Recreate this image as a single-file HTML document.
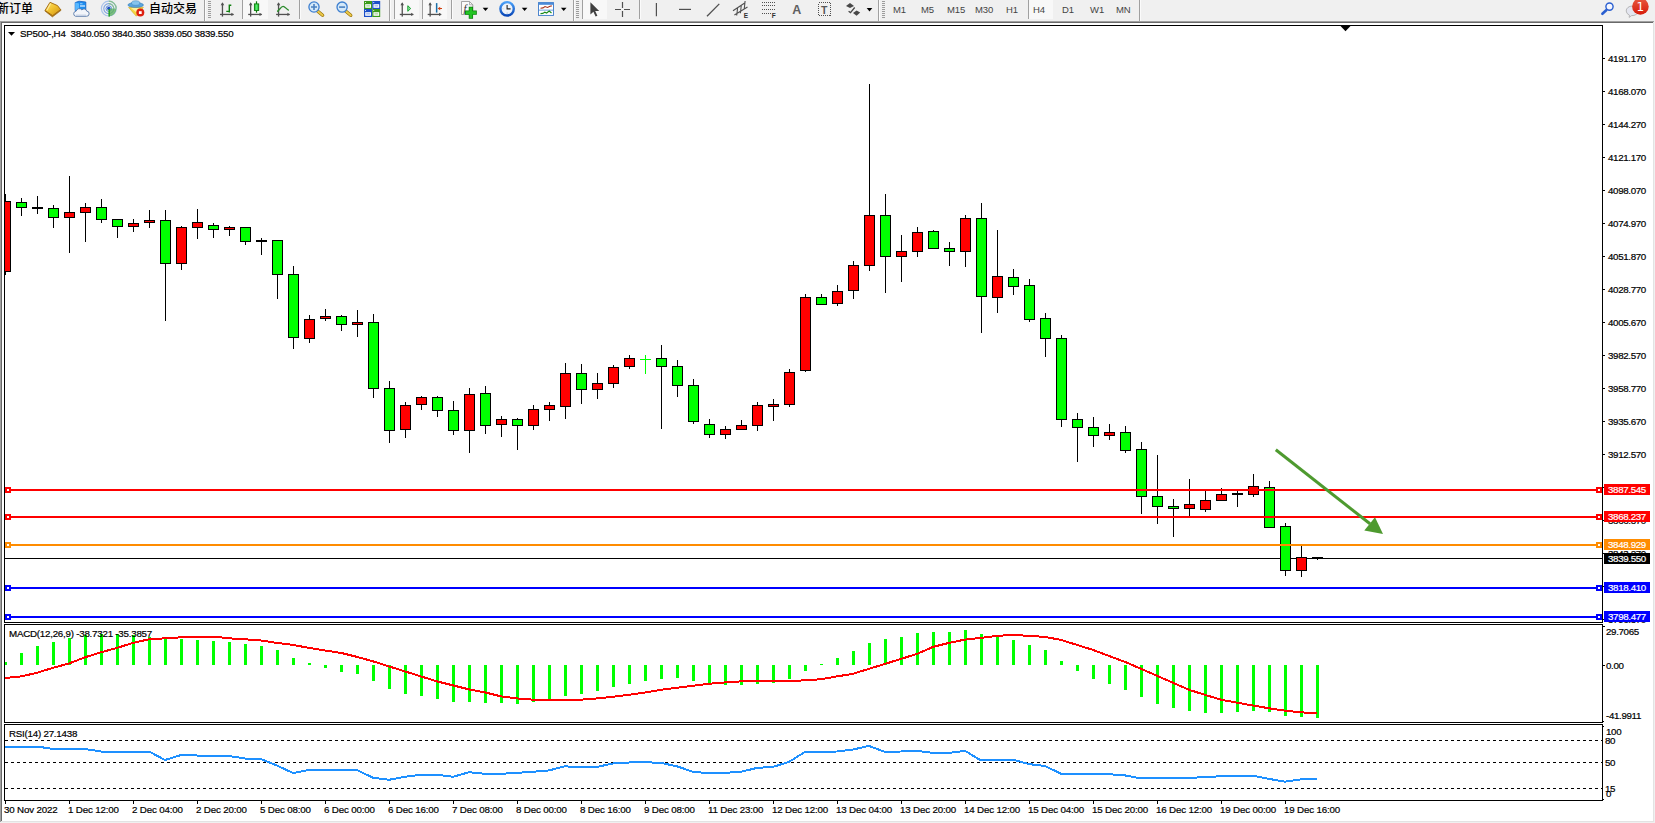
<!DOCTYPE html>
<html lang="zh-CN">
<head>
<meta charset="utf-8">
<title>SP500-,H4</title>
<style>
html,body{margin:0;padding:0;background:#fff;}
body{width:1655px;height:823px;position:relative;overflow:hidden;font-family:"Liberation Sans","Noto Sans CJK SC",sans-serif;}
#toolbar{position:absolute;left:0;top:0;width:1655px;height:21px;background:#f0f0f0;overflow:hidden;}
#tbicons{position:absolute;left:0;top:0;display:block;}
#tbicons text{font-family:"Liberation Sans",sans-serif;}
#toolbar .sep{position:absolute;top:0;width:1px;height:19px;background:#a0a0a0;box-shadow:1px 0 0 #fbfbfb;}
#toolbar .sep.full{height:21px;}
#toolbar .grip{position:absolute;top:1px;width:3px;height:17px;background:repeating-linear-gradient(to bottom,#9c9c9c 0,#9c9c9c 1px,#f0f0f0 1px,#f0f0f0 2px);}
#toolbar .chk{position:absolute;top:0;height:19px;background:#f8f8f8;border-left:1px solid #a0a0a0;box-sizing:border-box;}
#toolbar .chk.nb{border-left:0;}
#toolbar .cjk{position:absolute;top:0;font-size:12px;line-height:18px;color:#000;white-space:nowrap;font-weight:500;font-family:"Liberation Sans","Noto Sans CJK SC",sans-serif;}
#toolbar .tf{position:absolute;top:4px;font-size:9.5px;line-height:12px;color:#444;white-space:nowrap;letter-spacing:-0.05px;}
#edge-top1{position:absolute;left:0;top:21px;width:1655px;height:1px;background:#a0a0a0;}
#edge-top2{position:absolute;left:0;top:22px;width:1653px;height:1px;background:#696969;}
#edge-l1{position:absolute;left:0;top:22px;width:1px;height:800px;background:#a0a0a0;}
#edge-l2{position:absolute;left:1px;top:22px;width:1px;height:799px;background:#696969;}
#edge-r{position:absolute;left:1653px;top:22px;width:1px;height:800px;background:#e3e3e3;}
#edge-r2{position:absolute;left:1654px;top:21px;width:1px;height:802px;background:#f0f0f0;}
#edge-b{position:absolute;left:1px;top:821px;width:1653px;height:1px;background:#e3e3e3;}
#edge-b2{position:absolute;left:0;top:822px;width:1655px;height:1px;background:#f0f0f0;}
#chart{position:absolute;left:0;top:0;width:1655px;height:823px;display:block;}
#chart text{font-family:"Liberation Sans",sans-serif;font-size:9.75px;fill:#000;stroke:#000;stroke-width:.2px;letter-spacing:-0.34px;}
#chart text.w{fill:#fff;stroke:#fff;}
#chart text.tm{letter-spacing:-0.17px;}
#chart text.info{letter-spacing:-0.23px;white-space:pre;}
</style>
</head>
<body>
<div id="edge-top1"></div><div id="edge-top2"></div><div id="edge-l1"></div><div id="edge-l2"></div><div id="edge-r"></div><div id="edge-r2"></div><div id="edge-b"></div><div id="edge-b2"></div>
<svg id="chart" width="1655" height="823" viewBox="0 0 1655 823">
<rect x="5" y="558" width="1597" height="1" fill="#000"/>
<defs><clipPath id="mainclip"><rect x="5" y="26" width="1597" height="596"/></clipPath><clipPath id="macdclip"><rect x="5" y="625" width="1597" height="97"/></clipPath></defs>
<g shape-rendering="crispEdges" clip-path="url(#mainclip)">
<rect x="5" y="194" width="1" height="81" fill="#000"/>
<rect x="0" y="201" width="11" height="71" fill="#000"/>
<rect x="1" y="202" width="9" height="69" fill="#ff0000"/>
<rect x="21" y="198" width="1" height="18" fill="#000"/>
<rect x="16" y="202" width="11" height="6" fill="#000"/>
<rect x="17" y="203" width="9" height="4" fill="#00ff00"/>
<rect x="37" y="196" width="1" height="18" fill="#000"/>
<rect x="32" y="207" width="11" height="2" fill="#000"/>
<rect x="53" y="205" width="1" height="23" fill="#000"/>
<rect x="48" y="208" width="11" height="10" fill="#000"/>
<rect x="49" y="209" width="9" height="8" fill="#00ff00"/>
<rect x="69" y="176" width="1" height="77" fill="#000"/>
<rect x="64" y="212" width="11" height="6" fill="#000"/>
<rect x="65" y="213" width="9" height="4" fill="#ff0000"/>
<rect x="85" y="203" width="1" height="39" fill="#000"/>
<rect x="80" y="207" width="11" height="6" fill="#000"/>
<rect x="81" y="208" width="9" height="4" fill="#ff0000"/>
<rect x="101" y="199" width="1" height="24" fill="#000"/>
<rect x="96" y="207" width="11" height="13" fill="#000"/>
<rect x="97" y="208" width="9" height="11" fill="#00ff00"/>
<rect x="117" y="219" width="1" height="19" fill="#000"/>
<rect x="112" y="219" width="11" height="8" fill="#000"/>
<rect x="113" y="220" width="9" height="6" fill="#00ff00"/>
<rect x="133" y="219" width="1" height="13" fill="#000"/>
<rect x="128" y="223" width="11" height="4" fill="#000"/>
<rect x="129" y="224" width="9" height="2" fill="#ff0000"/>
<rect x="149" y="210" width="1" height="18" fill="#000"/>
<rect x="144" y="220" width="11" height="3" fill="#000"/>
<rect x="145" y="221" width="9" height="1" fill="#ff0000"/>
<rect x="165" y="210" width="1" height="111" fill="#000"/>
<rect x="160" y="220" width="11" height="44" fill="#000"/>
<rect x="161" y="221" width="9" height="42" fill="#00ff00"/>
<rect x="181" y="226" width="1" height="44" fill="#000"/>
<rect x="176" y="227" width="11" height="37" fill="#000"/>
<rect x="177" y="228" width="9" height="35" fill="#ff0000"/>
<rect x="197" y="209" width="1" height="30" fill="#000"/>
<rect x="192" y="222" width="11" height="6" fill="#000"/>
<rect x="193" y="223" width="9" height="4" fill="#ff0000"/>
<rect x="213" y="223" width="1" height="15" fill="#000"/>
<rect x="208" y="225" width="11" height="5" fill="#000"/>
<rect x="209" y="226" width="9" height="3" fill="#00ff00"/>
<rect x="229" y="226" width="1" height="10" fill="#000"/>
<rect x="224" y="227" width="11" height="3" fill="#000"/>
<rect x="225" y="228" width="9" height="1" fill="#ff0000"/>
<rect x="245" y="227" width="1" height="18" fill="#000"/>
<rect x="240" y="227" width="11" height="15" fill="#000"/>
<rect x="241" y="228" width="9" height="13" fill="#00ff00"/>
<rect x="261" y="238" width="1" height="17" fill="#000"/>
<rect x="256" y="240" width="11" height="2" fill="#000"/>
<rect x="277" y="240" width="1" height="59" fill="#000"/>
<rect x="272" y="240" width="11" height="35" fill="#000"/>
<rect x="273" y="241" width="9" height="33" fill="#00ff00"/>
<rect x="293" y="266" width="1" height="83" fill="#000"/>
<rect x="288" y="274" width="11" height="64" fill="#000"/>
<rect x="289" y="275" width="9" height="62" fill="#00ff00"/>
<rect x="309" y="315" width="1" height="28" fill="#000"/>
<rect x="304" y="319" width="11" height="20" fill="#000"/>
<rect x="305" y="320" width="9" height="18" fill="#ff0000"/>
<rect x="325" y="309" width="1" height="12" fill="#000"/>
<rect x="320" y="316" width="11" height="3" fill="#000"/>
<rect x="321" y="317" width="9" height="1" fill="#ff0000"/>
<rect x="341" y="315" width="1" height="16" fill="#000"/>
<rect x="336" y="316" width="11" height="9" fill="#000"/>
<rect x="337" y="317" width="9" height="7" fill="#00ff00"/>
<rect x="357" y="310" width="1" height="27" fill="#000"/>
<rect x="352" y="322" width="11" height="3" fill="#000"/>
<rect x="353" y="323" width="9" height="1" fill="#ff0000"/>
<rect x="373" y="314" width="1" height="84" fill="#000"/>
<rect x="368" y="322" width="11" height="67" fill="#000"/>
<rect x="369" y="323" width="9" height="65" fill="#00ff00"/>
<rect x="389" y="381" width="1" height="62" fill="#000"/>
<rect x="384" y="388" width="11" height="43" fill="#000"/>
<rect x="385" y="389" width="9" height="41" fill="#00ff00"/>
<rect x="405" y="402" width="1" height="36" fill="#000"/>
<rect x="400" y="405" width="11" height="25" fill="#000"/>
<rect x="401" y="406" width="9" height="23" fill="#ff0000"/>
<rect x="421" y="396" width="1" height="14" fill="#000"/>
<rect x="416" y="397" width="11" height="8" fill="#000"/>
<rect x="417" y="398" width="9" height="6" fill="#ff0000"/>
<rect x="437" y="396" width="1" height="21" fill="#000"/>
<rect x="432" y="397" width="11" height="14" fill="#000"/>
<rect x="433" y="398" width="9" height="12" fill="#00ff00"/>
<rect x="453" y="401" width="1" height="34" fill="#000"/>
<rect x="448" y="410" width="11" height="21" fill="#000"/>
<rect x="449" y="411" width="9" height="19" fill="#00ff00"/>
<rect x="469" y="388" width="1" height="65" fill="#000"/>
<rect x="464" y="394" width="11" height="37" fill="#000"/>
<rect x="465" y="395" width="9" height="35" fill="#ff0000"/>
<rect x="485" y="386" width="1" height="48" fill="#000"/>
<rect x="480" y="393" width="11" height="33" fill="#000"/>
<rect x="481" y="394" width="9" height="31" fill="#00ff00"/>
<rect x="501" y="416" width="1" height="21" fill="#000"/>
<rect x="496" y="419" width="11" height="6" fill="#000"/>
<rect x="497" y="420" width="9" height="4" fill="#ff0000"/>
<rect x="517" y="418" width="1" height="32" fill="#000"/>
<rect x="512" y="419" width="11" height="7" fill="#000"/>
<rect x="513" y="420" width="9" height="5" fill="#00ff00"/>
<rect x="533" y="405" width="1" height="25" fill="#000"/>
<rect x="528" y="409" width="11" height="17" fill="#000"/>
<rect x="529" y="410" width="9" height="15" fill="#ff0000"/>
<rect x="549" y="402" width="1" height="19" fill="#000"/>
<rect x="544" y="405" width="11" height="5" fill="#000"/>
<rect x="545" y="406" width="9" height="3" fill="#ff0000"/>
<rect x="565" y="363" width="1" height="56" fill="#000"/>
<rect x="560" y="373" width="11" height="34" fill="#000"/>
<rect x="561" y="374" width="9" height="32" fill="#ff0000"/>
<rect x="581" y="364" width="1" height="40" fill="#000"/>
<rect x="576" y="373" width="11" height="17" fill="#000"/>
<rect x="577" y="374" width="9" height="15" fill="#00ff00"/>
<rect x="597" y="373" width="1" height="26" fill="#000"/>
<rect x="592" y="383" width="11" height="7" fill="#000"/>
<rect x="593" y="384" width="9" height="5" fill="#ff0000"/>
<rect x="613" y="365" width="1" height="23" fill="#000"/>
<rect x="608" y="367" width="11" height="17" fill="#000"/>
<rect x="609" y="368" width="9" height="15" fill="#ff0000"/>
<rect x="629" y="355" width="1" height="14" fill="#000"/>
<rect x="624" y="358" width="11" height="9" fill="#000"/>
<rect x="625" y="359" width="9" height="7" fill="#ff0000"/>
<rect x="645" y="355" width="1" height="19" fill="#00ff00"/>
<rect x="640" y="359" width="11" height="1" fill="#00ff00"/>
<rect x="661" y="345" width="1" height="84" fill="#000"/>
<rect x="656" y="358" width="11" height="9" fill="#000"/>
<rect x="657" y="359" width="9" height="7" fill="#00ff00"/>
<rect x="677" y="360" width="1" height="37" fill="#000"/>
<rect x="672" y="366" width="11" height="20" fill="#000"/>
<rect x="673" y="367" width="9" height="18" fill="#00ff00"/>
<rect x="693" y="379" width="1" height="45" fill="#000"/>
<rect x="688" y="385" width="11" height="37" fill="#000"/>
<rect x="689" y="386" width="9" height="35" fill="#00ff00"/>
<rect x="709" y="419" width="1" height="19" fill="#000"/>
<rect x="704" y="424" width="11" height="11" fill="#000"/>
<rect x="705" y="425" width="9" height="9" fill="#00ff00"/>
<rect x="725" y="426" width="1" height="13" fill="#000"/>
<rect x="720" y="429" width="11" height="6" fill="#000"/>
<rect x="721" y="430" width="9" height="4" fill="#ff0000"/>
<rect x="741" y="420" width="1" height="10" fill="#000"/>
<rect x="736" y="425" width="11" height="5" fill="#000"/>
<rect x="737" y="426" width="9" height="3" fill="#ff0000"/>
<rect x="757" y="402" width="1" height="29" fill="#000"/>
<rect x="752" y="405" width="11" height="21" fill="#000"/>
<rect x="753" y="406" width="9" height="19" fill="#ff0000"/>
<rect x="773" y="399" width="1" height="22" fill="#000"/>
<rect x="768" y="404" width="11" height="3" fill="#000"/>
<rect x="769" y="405" width="9" height="1" fill="#ff0000"/>
<rect x="789" y="369" width="1" height="38" fill="#000"/>
<rect x="784" y="372" width="11" height="33" fill="#000"/>
<rect x="785" y="373" width="9" height="31" fill="#ff0000"/>
<rect x="805" y="294" width="1" height="78" fill="#000"/>
<rect x="800" y="297" width="11" height="74" fill="#000"/>
<rect x="801" y="298" width="9" height="72" fill="#ff0000"/>
<rect x="821" y="294" width="1" height="11" fill="#000"/>
<rect x="816" y="297" width="11" height="8" fill="#000"/>
<rect x="817" y="298" width="9" height="6" fill="#00ff00"/>
<rect x="837" y="285" width="1" height="21" fill="#000"/>
<rect x="832" y="291" width="11" height="13" fill="#000"/>
<rect x="833" y="292" width="9" height="11" fill="#ff0000"/>
<rect x="853" y="261" width="1" height="38" fill="#000"/>
<rect x="848" y="265" width="11" height="26" fill="#000"/>
<rect x="849" y="266" width="9" height="24" fill="#ff0000"/>
<rect x="869" y="84" width="1" height="187" fill="#000"/>
<rect x="864" y="215" width="11" height="51" fill="#000"/>
<rect x="865" y="216" width="9" height="49" fill="#ff0000"/>
<rect x="885" y="194" width="1" height="99" fill="#000"/>
<rect x="880" y="215" width="11" height="42" fill="#000"/>
<rect x="881" y="216" width="9" height="40" fill="#00ff00"/>
<rect x="901" y="235" width="1" height="47" fill="#000"/>
<rect x="896" y="251" width="11" height="6" fill="#000"/>
<rect x="897" y="252" width="9" height="4" fill="#ff0000"/>
<rect x="917" y="227" width="1" height="30" fill="#000"/>
<rect x="912" y="232" width="11" height="20" fill="#000"/>
<rect x="913" y="233" width="9" height="18" fill="#ff0000"/>
<rect x="933" y="230" width="1" height="19" fill="#000"/>
<rect x="928" y="231" width="11" height="18" fill="#000"/>
<rect x="929" y="232" width="9" height="16" fill="#00ff00"/>
<rect x="949" y="242" width="1" height="24" fill="#000"/>
<rect x="944" y="248" width="11" height="4" fill="#000"/>
<rect x="945" y="249" width="9" height="2" fill="#00ff00"/>
<rect x="965" y="215" width="1" height="52" fill="#000"/>
<rect x="960" y="218" width="11" height="34" fill="#000"/>
<rect x="961" y="219" width="9" height="32" fill="#ff0000"/>
<rect x="981" y="203" width="1" height="130" fill="#000"/>
<rect x="976" y="218" width="11" height="79" fill="#000"/>
<rect x="977" y="219" width="9" height="77" fill="#00ff00"/>
<rect x="997" y="230" width="1" height="83" fill="#000"/>
<rect x="992" y="276" width="11" height="22" fill="#000"/>
<rect x="993" y="277" width="9" height="20" fill="#ff0000"/>
<rect x="1013" y="269" width="1" height="26" fill="#000"/>
<rect x="1008" y="277" width="11" height="10" fill="#000"/>
<rect x="1009" y="278" width="9" height="8" fill="#00ff00"/>
<rect x="1029" y="279" width="1" height="43" fill="#000"/>
<rect x="1024" y="285" width="11" height="35" fill="#000"/>
<rect x="1025" y="286" width="9" height="33" fill="#00ff00"/>
<rect x="1045" y="313" width="1" height="44" fill="#000"/>
<rect x="1040" y="318" width="11" height="21" fill="#000"/>
<rect x="1041" y="319" width="9" height="19" fill="#00ff00"/>
<rect x="1061" y="335" width="1" height="92" fill="#000"/>
<rect x="1056" y="338" width="11" height="82" fill="#000"/>
<rect x="1057" y="339" width="9" height="80" fill="#00ff00"/>
<rect x="1077" y="413" width="1" height="49" fill="#000"/>
<rect x="1072" y="419" width="11" height="9" fill="#000"/>
<rect x="1073" y="420" width="9" height="7" fill="#00ff00"/>
<rect x="1093" y="417" width="1" height="30" fill="#000"/>
<rect x="1088" y="427" width="11" height="9" fill="#000"/>
<rect x="1089" y="428" width="9" height="7" fill="#00ff00"/>
<rect x="1109" y="424" width="1" height="16" fill="#000"/>
<rect x="1104" y="432" width="11" height="4" fill="#000"/>
<rect x="1105" y="433" width="9" height="2" fill="#ff0000"/>
<rect x="1125" y="426" width="1" height="27" fill="#000"/>
<rect x="1120" y="432" width="11" height="19" fill="#000"/>
<rect x="1121" y="433" width="9" height="17" fill="#00ff00"/>
<rect x="1141" y="442" width="1" height="72" fill="#000"/>
<rect x="1136" y="449" width="11" height="48" fill="#000"/>
<rect x="1137" y="450" width="9" height="46" fill="#00ff00"/>
<rect x="1157" y="455" width="1" height="69" fill="#000"/>
<rect x="1152" y="496" width="11" height="11" fill="#000"/>
<rect x="1153" y="497" width="9" height="9" fill="#00ff00"/>
<rect x="1173" y="499" width="1" height="38" fill="#000"/>
<rect x="1168" y="506" width="11" height="3" fill="#000"/>
<rect x="1169" y="507" width="9" height="1" fill="#00ff00"/>
<rect x="1189" y="479" width="1" height="37" fill="#000"/>
<rect x="1184" y="504" width="11" height="5" fill="#000"/>
<rect x="1185" y="505" width="9" height="3" fill="#ff0000"/>
<rect x="1205" y="491" width="1" height="21" fill="#000"/>
<rect x="1200" y="500" width="11" height="10" fill="#000"/>
<rect x="1201" y="501" width="9" height="8" fill="#ff0000"/>
<rect x="1221" y="488" width="1" height="13" fill="#000"/>
<rect x="1216" y="494" width="11" height="7" fill="#000"/>
<rect x="1217" y="495" width="9" height="5" fill="#ff0000"/>
<rect x="1237" y="491" width="1" height="16" fill="#000"/>
<rect x="1232" y="493" width="11" height="2" fill="#000"/>
<rect x="1253" y="474" width="1" height="23" fill="#000"/>
<rect x="1248" y="486" width="11" height="9" fill="#000"/>
<rect x="1249" y="487" width="9" height="7" fill="#ff0000"/>
<rect x="1269" y="481" width="1" height="47" fill="#000"/>
<rect x="1264" y="487" width="11" height="41" fill="#000"/>
<rect x="1265" y="488" width="9" height="39" fill="#00ff00"/>
<rect x="1285" y="523" width="1" height="53" fill="#000"/>
<rect x="1280" y="526" width="11" height="45" fill="#000"/>
<rect x="1281" y="527" width="9" height="43" fill="#00ff00"/>
<rect x="1301" y="546" width="1" height="31" fill="#000"/>
<rect x="1296" y="557" width="11" height="14" fill="#000"/>
<rect x="1297" y="558" width="9" height="12" fill="#ff0000"/>
<rect x="1317" y="557" width="1" height="3" fill="#000"/>
<rect x="1312" y="557" width="11" height="1" fill="#000"/>
</g>
<g class="ax">
<rect x="1603" y="58" width="2" height="1" fill="#000"/>
<text x="1608" y="62">4191.170</text>
<rect x="1603" y="91" width="2" height="1" fill="#000"/>
<text x="1608" y="95">4168.070</text>
<rect x="1603" y="124" width="2" height="1" fill="#000"/>
<text x="1608" y="128">4144.270</text>
<rect x="1603" y="157" width="2" height="1" fill="#000"/>
<text x="1608" y="161">4121.170</text>
<rect x="1603" y="190" width="2" height="1" fill="#000"/>
<text x="1608" y="194">4098.070</text>
<rect x="1603" y="223" width="2" height="1" fill="#000"/>
<text x="1608" y="227">4074.970</text>
<rect x="1603" y="256" width="2" height="1" fill="#000"/>
<text x="1608" y="260">4051.870</text>
<rect x="1603" y="289" width="2" height="1" fill="#000"/>
<text x="1608" y="293">4028.770</text>
<rect x="1603" y="322" width="2" height="1" fill="#000"/>
<text x="1608" y="326">4005.670</text>
<rect x="1603" y="355" width="2" height="1" fill="#000"/>
<text x="1608" y="359">3982.570</text>
<rect x="1603" y="388" width="2" height="1" fill="#000"/>
<text x="1608" y="392">3958.770</text>
<rect x="1603" y="421" width="2" height="1" fill="#000"/>
<text x="1608" y="425">3935.670</text>
<rect x="1603" y="454" width="2" height="1" fill="#000"/>
<text x="1608" y="458">3912.570</text>
<rect x="1603" y="487" width="2" height="1" fill="#000"/>
<text x="1608" y="491">3889.470</text>
<rect x="1603" y="520" width="2" height="1" fill="#000"/>
<text x="1608" y="524">3866.370</text>
<rect x="1603" y="553" width="2" height="1" fill="#000"/>
<text x="1608" y="557">3843.270</text>
<rect x="1603" y="586" width="2" height="1" fill="#000"/>
<text x="1608" y="590">3819.470</text>
<rect x="1603" y="619" width="2" height="1" fill="#000"/>
<text x="1608" y="623">3796.370</text>
</g>
<g shape-rendering="crispEdges">
<rect x="5" y="489" width="1597" height="2" fill="#ff0000"/>
<rect x="5" y="487" width="6" height="6" fill="#ff0000"/>
<rect x="7" y="489" width="2" height="2" fill="#fff"/>
<rect x="1596" y="487" width="6" height="6" fill="#ff0000"/>
<rect x="1598" y="489" width="2" height="2" fill="#fff"/>
<rect x="5" y="516" width="1597" height="2" fill="#ff0000"/>
<rect x="5" y="514" width="6" height="6" fill="#ff0000"/>
<rect x="7" y="516" width="2" height="2" fill="#fff"/>
<rect x="1596" y="514" width="6" height="6" fill="#ff0000"/>
<rect x="1598" y="516" width="2" height="2" fill="#fff"/>
<rect x="5" y="544" width="1597" height="2" fill="#ff8c00"/>
<rect x="5" y="542" width="6" height="6" fill="#ff8c00"/>
<rect x="7" y="544" width="2" height="2" fill="#fff"/>
<rect x="1596" y="542" width="6" height="6" fill="#ff8c00"/>
<rect x="1598" y="544" width="2" height="2" fill="#fff"/>
<rect x="5" y="587" width="1597" height="2" fill="#0000ff"/>
<rect x="5" y="585" width="6" height="6" fill="#0000ff"/>
<rect x="7" y="587" width="2" height="2" fill="#fff"/>
<rect x="1596" y="585" width="6" height="6" fill="#0000ff"/>
<rect x="1598" y="587" width="2" height="2" fill="#fff"/>
<rect x="5" y="616" width="1597" height="2" fill="#0000ff"/>
<rect x="5" y="614" width="6" height="6" fill="#0000ff"/>
<rect x="7" y="616" width="2" height="2" fill="#fff"/>
<rect x="1596" y="614" width="6" height="6" fill="#0000ff"/>
<rect x="1598" y="616" width="2" height="2" fill="#fff"/>
</g>
<g><line x1="1275.8" y1="449.7" x2="1370" y2="523.8" stroke="#4e9a2f" stroke-width="3"/><polygon points="1383,534 1364.3,530.6 1375,517.2" fill="#4e9a2f"/></g>
<g class="ax">
<rect x="1604" y="484" width="46" height="11" fill="#ff0000"/>
<text x="1608" y="493" class="w">3887.545</text>
<rect x="1604" y="511" width="46" height="11" fill="#ff0000"/>
<text x="1608" y="520" class="w">3868.237</text>
<rect x="1604" y="539" width="46" height="11" fill="#ff8c00"/>
<text x="1608" y="548" class="w">3848.929</text>
<rect x="1604" y="582" width="46" height="11" fill="#0000ff"/>
<text x="1608" y="591" class="w">3818.410</text>
<rect x="1604" y="611" width="46" height="11" fill="#0000ff"/>
<text x="1608" y="620" class="w">3798.477</text>
<rect x="1604" y="553" width="46" height="11" fill="#000"/>
<text x="1608" y="562" class="w">3839.550</text>
</g>
<polygon points="1340.5,26 1350.5,26 1345.5,31.2" fill="#000"/>
<g shape-rendering="crispEdges">
<rect x="5" y="662" width="2" height="3" fill="#00ff00"/>
<rect x="20" y="653" width="3" height="12" fill="#00ff00"/>
<rect x="36" y="646" width="3" height="19" fill="#00ff00"/>
<rect x="52" y="642" width="3" height="23" fill="#00ff00"/>
<rect x="68" y="638" width="3" height="27" fill="#00ff00"/>
<rect x="84" y="635" width="3" height="30" fill="#00ff00"/>
<rect x="100" y="634" width="3" height="31" fill="#00ff00"/>
<rect x="116" y="634" width="3" height="31" fill="#00ff00"/>
<rect x="132" y="635" width="3" height="30" fill="#00ff00"/>
<rect x="148" y="637" width="3" height="28" fill="#00ff00"/>
<rect x="164" y="638" width="3" height="27" fill="#00ff00"/>
<rect x="180" y="639" width="3" height="26" fill="#00ff00"/>
<rect x="196" y="640" width="3" height="25" fill="#00ff00"/>
<rect x="212" y="641" width="3" height="24" fill="#00ff00"/>
<rect x="228" y="642" width="3" height="23" fill="#00ff00"/>
<rect x="244" y="644" width="3" height="21" fill="#00ff00"/>
<rect x="260" y="646" width="3" height="19" fill="#00ff00"/>
<rect x="276" y="650" width="3" height="15" fill="#00ff00"/>
<rect x="292" y="658" width="3" height="7" fill="#00ff00"/>
<rect x="308" y="663" width="3" height="2" fill="#00ff00"/>
<rect x="324" y="665" width="3" height="3" fill="#00ff00"/>
<rect x="340" y="665" width="3" height="7" fill="#00ff00"/>
<rect x="356" y="665" width="3" height="9" fill="#00ff00"/>
<rect x="372" y="665" width="3" height="16" fill="#00ff00"/>
<rect x="388" y="665" width="3" height="24" fill="#00ff00"/>
<rect x="404" y="665" width="3" height="29" fill="#00ff00"/>
<rect x="420" y="665" width="3" height="31" fill="#00ff00"/>
<rect x="436" y="665" width="3" height="34" fill="#00ff00"/>
<rect x="452" y="665" width="3" height="37" fill="#00ff00"/>
<rect x="468" y="665" width="3" height="37" fill="#00ff00"/>
<rect x="484" y="665" width="3" height="38" fill="#00ff00"/>
<rect x="500" y="665" width="3" height="38" fill="#00ff00"/>
<rect x="516" y="665" width="3" height="39" fill="#00ff00"/>
<rect x="532" y="665" width="3" height="37" fill="#00ff00"/>
<rect x="548" y="665" width="3" height="35" fill="#00ff00"/>
<rect x="564" y="665" width="3" height="31" fill="#00ff00"/>
<rect x="580" y="665" width="3" height="29" fill="#00ff00"/>
<rect x="596" y="665" width="3" height="26" fill="#00ff00"/>
<rect x="612" y="665" width="3" height="22" fill="#00ff00"/>
<rect x="628" y="665" width="3" height="19" fill="#00ff00"/>
<rect x="644" y="665" width="3" height="16" fill="#00ff00"/>
<rect x="660" y="665" width="3" height="14" fill="#00ff00"/>
<rect x="676" y="665" width="3" height="13" fill="#00ff00"/>
<rect x="692" y="665" width="3" height="16" fill="#00ff00"/>
<rect x="708" y="665" width="3" height="19" fill="#00ff00"/>
<rect x="724" y="665" width="3" height="20" fill="#00ff00"/>
<rect x="740" y="665" width="3" height="20" fill="#00ff00"/>
<rect x="756" y="665" width="3" height="19" fill="#00ff00"/>
<rect x="772" y="665" width="3" height="18" fill="#00ff00"/>
<rect x="788" y="665" width="3" height="14" fill="#00ff00"/>
<rect x="804" y="665" width="3" height="6" fill="#00ff00"/>
<rect x="820" y="664" width="3" height="1" fill="#00ff00"/>
<rect x="836" y="658" width="3" height="7" fill="#00ff00"/>
<rect x="852" y="651" width="3" height="14" fill="#00ff00"/>
<rect x="868" y="643" width="3" height="22" fill="#00ff00"/>
<rect x="884" y="639" width="3" height="26" fill="#00ff00"/>
<rect x="900" y="637" width="3" height="28" fill="#00ff00"/>
<rect x="916" y="633" width="3" height="32" fill="#00ff00"/>
<rect x="932" y="632" width="3" height="33" fill="#00ff00"/>
<rect x="948" y="632" width="3" height="33" fill="#00ff00"/>
<rect x="964" y="630" width="3" height="35" fill="#00ff00"/>
<rect x="980" y="634" width="3" height="31" fill="#00ff00"/>
<rect x="996" y="637" width="3" height="28" fill="#00ff00"/>
<rect x="1012" y="640" width="3" height="25" fill="#00ff00"/>
<rect x="1028" y="645" width="3" height="20" fill="#00ff00"/>
<rect x="1044" y="650" width="3" height="15" fill="#00ff00"/>
<rect x="1060" y="661" width="3" height="4" fill="#00ff00"/>
<rect x="1076" y="665" width="3" height="6" fill="#00ff00"/>
<rect x="1092" y="665" width="3" height="14" fill="#00ff00"/>
<rect x="1108" y="665" width="3" height="19" fill="#00ff00"/>
<rect x="1124" y="665" width="3" height="25" fill="#00ff00"/>
<rect x="1140" y="665" width="3" height="32" fill="#00ff00"/>
<rect x="1156" y="665" width="3" height="39" fill="#00ff00"/>
<rect x="1172" y="665" width="3" height="43" fill="#00ff00"/>
<rect x="1188" y="665" width="3" height="46" fill="#00ff00"/>
<rect x="1204" y="665" width="3" height="48" fill="#00ff00"/>
<rect x="1220" y="665" width="3" height="48" fill="#00ff00"/>
<rect x="1236" y="665" width="3" height="47" fill="#00ff00"/>
<rect x="1252" y="665" width="3" height="46" fill="#00ff00"/>
<rect x="1268" y="665" width="3" height="47" fill="#00ff00"/>
<rect x="1284" y="665" width="3" height="51" fill="#00ff00"/>
<rect x="1300" y="665" width="3" height="52" fill="#00ff00"/>
<rect x="1316" y="665" width="3" height="53" fill="#00ff00"/>
</g>
<polyline points="5,678.0 21,676.4 37,672.8 53,667.8 69,663.5 85,657.3 101,652.3 117,647.9 133,642.9 149,639.3 165,638.3 181,637.3 197,636.5 213,636.5 229,638.3 245,639.3 261,640.5 277,642.9 293,644.9 309,647.9 325,650.5 341,652.9 357,656.9 373,661.3 389,666.4 405,671.4 421,676.4 437,681.4 453,685.4 469,689.4 485,692.4 501,696.4 517,698.4 533,699.7 549,699.7 565,699.7 581,699.7 597,698.4 613,696.8 629,694.8 645,692.5 661,689.8 677,687.8 693,685.8 709,683.8 725,682.4 741,681.4 757,680.8 773,680.8 789,680.8 805,680.4 821,679.2 837,676.4 853,673.8 869,668.8 885,663.9 901,658.9 917,653.9 933,646.9 949,642.9 965,639.6 981,637.9 997,635.9 1013,634.9 1029,635.9 1045,636.9 1061,639.9 1077,644.9 1093,649.9 1109,655.9 1125,661.9 1141,668.8 1157,675.8 1173,682.8 1189,689.8 1205,694.8 1221,699.7 1237,702.7 1253,705.5 1269,708.3 1285,710.6 1301,712.4 1317,713.0" fill="none" stroke="#ff0000" stroke-width="2" stroke-linejoin="round" shape-rendering="crispEdges"/>
<line x1="5" y1="740.5" x2="1602" y2="740.5" stroke="#000" stroke-width="1" stroke-dasharray="3 3" shape-rendering="crispEdges"/>
<line x1="5" y1="762.5" x2="1602" y2="762.5" stroke="#000" stroke-width="1" stroke-dasharray="3 3" shape-rendering="crispEdges"/>
<line x1="5" y1="788.5" x2="1602" y2="788.5" stroke="#000" stroke-width="1" stroke-dasharray="3 3" shape-rendering="crispEdges"/>
<polyline points="5,746.5 21,746.5 37,746.5 53,749.0 69,749.0 85,749.0 101,751.5 117,751.5 133,751.5 149,751.5 165,760.0 181,755.0 197,755.5 213,756.0 229,756.0 245,758.5 261,759.0 277,765.5 293,773.0 309,770.0 325,770.0 341,770.0 357,770.0 373,777.8 389,779.8 405,776.8 421,774.8 437,774.8 453,776.8 469,772.2 485,773.8 501,773.8 517,772.8 533,771.8 549,770.4 565,766.3 581,767.3 597,766.9 613,763.5 629,762.5 645,762.2 661,762.9 677,766.3 693,771.8 709,773.2 725,772.8 741,771.8 757,767.9 773,766.9 789,761.9 805,751.9 821,751.9 837,751.5 853,749.5 869,745.9 885,751.9 901,751.5 917,750.9 933,752.9 949,752.9 965,750.8 981,760.5 997,759.6 1013,759.6 1029,764.1 1045,766.0 1061,773.7 1077,773.7 1093,773.7 1109,774.2 1125,775.4 1141,778.4 1157,778.4 1173,778.4 1189,777.7 1205,777.3 1221,776.1 1237,775.8 1253,775.8 1269,778.9 1285,781.7 1301,779.4 1317,778.9" fill="none" stroke="#1e90ff" stroke-width="2" stroke-linejoin="round" shape-rendering="crispEdges"/>
<g shape-rendering="crispEdges" fill="#000">
<rect x="4" y="25" width="1599" height="1" fill="#000"/>
<rect x="4" y="622" width="1599" height="1" fill="#000"/>
<rect x="4" y="25" width="1" height="598" fill="#000"/>
<rect x="1602" y="25" width="1" height="598" fill="#000"/>
<rect x="4" y="624" width="1599" height="1" fill="#000"/>
<rect x="4" y="722" width="1599" height="1" fill="#000"/>
<rect x="4" y="624" width="1" height="99" fill="#000"/>
<rect x="1602" y="624" width="1" height="99" fill="#000"/>
<rect x="4" y="724" width="1599" height="1" fill="#000"/>
<rect x="4" y="800" width="1599" height="1" fill="#000"/>
<rect x="4" y="724" width="1" height="77" fill="#000"/>
<rect x="1602" y="724" width="1" height="77" fill="#000"/>
<rect x="5" y="801" width="1" height="3" fill="#000"/>
<rect x="69" y="801" width="1" height="3" fill="#000"/>
<rect x="133" y="801" width="1" height="3" fill="#000"/>
<rect x="197" y="801" width="1" height="3" fill="#000"/>
<rect x="261" y="801" width="1" height="3" fill="#000"/>
<rect x="325" y="801" width="1" height="3" fill="#000"/>
<rect x="389" y="801" width="1" height="3" fill="#000"/>
<rect x="453" y="801" width="1" height="3" fill="#000"/>
<rect x="517" y="801" width="1" height="3" fill="#000"/>
<rect x="581" y="801" width="1" height="3" fill="#000"/>
<rect x="645" y="801" width="1" height="3" fill="#000"/>
<rect x="709" y="801" width="1" height="3" fill="#000"/>
<rect x="773" y="801" width="1" height="3" fill="#000"/>
<rect x="837" y="801" width="1" height="3" fill="#000"/>
<rect x="901" y="801" width="1" height="3" fill="#000"/>
<rect x="965" y="801" width="1" height="3" fill="#000"/>
<rect x="1029" y="801" width="1" height="3" fill="#000"/>
<rect x="1093" y="801" width="1" height="3" fill="#000"/>
<rect x="1157" y="801" width="1" height="3" fill="#000"/>
<rect x="1221" y="801" width="1" height="3" fill="#000"/>
<rect x="1285" y="801" width="1" height="3" fill="#000"/>
<rect x="1603" y="626" width="2" height="1" fill="#000"/>
<rect x="1603" y="665" width="2" height="1" fill="#000"/>
<rect x="1603" y="721" width="1" height="1" fill="#000"/>
<rect x="1603" y="726" width="1" height="1" fill="#000"/>
<rect x="1603" y="799" width="1" height="1" fill="#000"/>
</g>
<g class="ax">
<text x="4" y="813" class="tm">30 Nov 2022</text>
<text x="68" y="813" class="tm">1 Dec 12:00</text>
<text x="132" y="813" class="tm">2 Dec 04:00</text>
<text x="196" y="813" class="tm">2 Dec 20:00</text>
<text x="260" y="813" class="tm">5 Dec 08:00</text>
<text x="324" y="813" class="tm">6 Dec 00:00</text>
<text x="388" y="813" class="tm">6 Dec 16:00</text>
<text x="452" y="813" class="tm">7 Dec 08:00</text>
<text x="516" y="813" class="tm">8 Dec 00:00</text>
<text x="580" y="813" class="tm">8 Dec 16:00</text>
<text x="644" y="813" class="tm">9 Dec 08:00</text>
<text x="708" y="813" class="tm">11 Dec 23:00</text>
<text x="772" y="813" class="tm">12 Dec 12:00</text>
<text x="836" y="813" class="tm">13 Dec 04:00</text>
<text x="900" y="813" class="tm">13 Dec 20:00</text>
<text x="964" y="813" class="tm">14 Dec 12:00</text>
<text x="1028" y="813" class="tm">15 Dec 04:00</text>
<text x="1092" y="813" class="tm">15 Dec 20:00</text>
<text x="1156" y="813" class="tm">16 Dec 12:00</text>
<text x="1220" y="813" class="tm">19 Dec 00:00</text>
<text x="1284" y="813" class="tm">19 Dec 16:00</text>
<text x="1606" y="635">29.7065</text>
<text x="1606" y="669">0.00</text>
<text x="1606" y="719">-41.9911</text>
<text x="1606" y="735">100</text>
<text x="1605" y="744">80</text>
<text x="1605" y="766">50</text>
<text x="1605" y="792">15</text>
<text x="1606" y="797">0</text>
<text x="20" y="37" class="info">SP500-,H4  3840.050 3840.350 3839.050 3839.550</text>
<text x="9" y="637" class="info">MACD(12,26,9) -38.7321 -35.3857</text>
<text x="9" y="737" class="info">RSI(14) 27.1438</text>
</g>
<polygon points="8,32 15,32 11.5,35.7" fill="#000"/>
</svg>
<div id="toolbar">
<span class="cjk" style="left:-3px">新订单</span>
<span class="cjk" style="left:149px">自动交易</span>
<div class="sep full" style="left:204px"></div>
<div class="grip" style="left:208px"></div>
<div class="sep" style="left:242px"></div>
<div class="chk nb" style="left:243px;width:25px"></div>
<div class="sep" style="left:299px"></div>
<div class="sep full" style="left:389px"></div>
<div class="chk" style="left:394px;width:25px"></div>
<div class="chk" style="left:422px;width:25px"></div>
<div class="sep" style="left:451px"></div>
<div class="sep full" style="left:573px"></div>
<div class="grip" style="left:576px"></div>
<div class="chk" style="left:582px;width:25px"></div>
<div class="sep" style="left:639px"></div>
<div class="sep full" style="left:878px"></div>
<div class="grip" style="left:882px"></div>
<span class="tf" style="left:893px">M1</span>
<span class="tf" style="left:921px">M5</span>
<span class="tf" style="left:947px">M15</span>
<span class="tf" style="left:975px">M30</span>
<span class="tf" style="left:1006px">H1</span>
<div class="chk" style="left:1028px;width:25px"></div>
<span class="tf" style="left:1033px">H4</span>
<span class="tf" style="left:1062px">D1</span>
<span class="tf" style="left:1090px">W1</span>
<span class="tf" style="left:1116px">MN</span>
<div class="sep full" style="left:1139px"></div>
<svg id="tbicons" width="1655" height="21" viewBox="0 0 1655 21">
<defs><linearGradient id="gbook" x1="0" y1="0" x2="1" y2="1"><stop offset="0" stop-color="#fbe27a"/><stop offset=".45" stop-color="#f2c432"/><stop offset="1" stop-color="#cf900e"/></linearGradient><linearGradient id="gclk" x1="0" y1="0" x2="0" y2="1"><stop offset="0" stop-color="#4aa0f8"/><stop offset="1" stop-color="#0a48b8"/></linearGradient><linearGradient id="gbadge" x1="0" y1="0" x2="0" y2="1"><stop offset="0" stop-color="#e85a40"/><stop offset="1" stop-color="#d61a08"/></linearGradient><linearGradient id="gcnd" x1="0" y1="0" x2="1" y2="0"><stop offset="0" stop-color="#18b828"/><stop offset=".5" stop-color="#58f070"/><stop offset="1" stop-color="#18b828"/></linearGradient><linearGradient id="ghandle" x1="0" y1="0" x2="1" y2="0"><stop offset="0" stop-color="#b8860b"/><stop offset=".5" stop-color="#f4dc70"/><stop offset="1" stop-color="#b8860b"/></linearGradient></defs>
<polygon points="45.2,11.2 52.4,16.9 60.8,10.6 60.8,9.4 52.4,15.4 45.2,10" fill="#c08a20" stroke="#8a5a08" stroke-width=".6"/>
<polygon points="50,2.3 57.5,5.6 60.6,9.6 52.6,15.6 45,10.5" fill="url(#gbook)" stroke="#a0660c" stroke-width=".9" stroke-linejoin="round"/>
<path d="M50.6 3.6 L47 10.3" stroke="#fff3b0" stroke-width="1.1" fill="none" opacity=".8"/>
<g><polygon points="75.2,2.6 79,1.2 85.8,2 85.8,10.5 75.2,10.5" fill="#1e8ef0" stroke="#1560c0" stroke-width=".8"/><polygon points="75.2,2.6 79,3.6 79,10.5 75.2,10.5" fill="#58b8ff"/><rect x="80" y="5.4" width="5" height="1.2" fill="#eaf6ff"/><rect x="80" y="3.4" width="2.5" height=".8" fill="#bfe0ff"/><path d="M75.6 16.3h10.8a2.6 2.6 0 0 0 .3-5.2 2.8 2.8 0 0 0-4.8-1.2 3.3 3.3 0 0 0-5.8 1.3 2.6 2.6 0 0 0-.5 5.1z" fill="#f2f5fa" stroke="#5878a8" stroke-width=".9"/><path d="M76 15.2h10" stroke="#c4d0e4" stroke-width="1.2"/></g>
<g fill="none"><circle cx="108.8" cy="8.6" r="7.4" stroke="#a9c3ea" stroke-width="1.2"/><circle cx="108.8" cy="8.6" r="5" stroke="#7fa4e0" stroke-width="1.1"/><circle cx="108.8" cy="8.6" r="2.8" stroke="#5f8fe0" stroke-width="1"/><path d="M108.8 8.6 L116.5 8.6 A7.7 7.7 0 0 1 108.8 16.3Z" fill="#58b058" opacity=".75"/><path d="M108.8 1.2 A7.4 7.4 0 0 1 116.2 8.6" stroke="#88c090" stroke-width="1.3"/><path d="M108.8 3.6 A5 5 0 0 1 113.8 8.6" stroke="#88c090" stroke-width="1.1"/><circle cx="108.8" cy="8.4" r="1.7" fill="#2050c0"/><rect x="108.5" y="9" width="1.4" height="7.6" fill="#20a020"/></g>
<g><polygon points="128.6,7.3 143.4,7.3 139,13 136.3,16.2 132.5,12" fill="#f5d742" stroke="#d0a820" stroke-width=".6"/><polygon points="131,8 139,8 136,12" fill="#fdf0a0"/><ellipse cx="135.7" cy="5" rx="7.8" ry="2.4" fill="#5aa4dc" stroke="#3a80b8" stroke-width=".6"/><ellipse cx="135.7" cy="3" rx="4.2" ry="2.3" fill="#86c4ee" stroke="#3a80b8" stroke-width=".5"/><circle cx="140.3" cy="12.6" r="4" fill="#dd2010"/><rect x="138.9" y="11.2" width="2.8" height="2.8" fill="#fff"/></g>
<g transform="translate(220,0)" fill="#505050"><rect x="1.8" y="3.3" width="1.3" height="13.3"/><rect x="0" y="13.8" width="13.4" height="1.3"/><polygon points="2.45,2.2 0.7,5.2 4.2,5.2"/><polygon points="14,14.45 11.3,12.8 11.3,16.1"/></g>
<path d="M229.3 4.6v8M229.3 5.3h2M226.3 11.4h3" stroke="#108010" stroke-width="1.4" fill="none"/>
<g transform="translate(248.2,0)" fill="#505050"><rect x="1.8" y="3.3" width="1.3" height="13.3"/><rect x="0" y="13.8" width="13.4" height="1.3"/><polygon points="2.45,2.2 0.7,5.2 4.2,5.2"/><polygon points="14,14.45 11.3,12.8 11.3,16.1"/></g>
<rect x="255.9" y="1.3" width="1.2" height="11.4" fill="#0c7a0c"/><rect x="254.4" y="3.9" width="4.3" height="6.6" fill="url(#gcnd)" stroke="#0c7a0c" stroke-width=".9"/>
<g transform="translate(276.1,0)" fill="#505050"><rect x="1.8" y="3.3" width="1.3" height="13.3"/><rect x="0" y="13.8" width="13.4" height="1.3"/><polygon points="2.45,2.2 0.7,5.2 4.2,5.2"/><polygon points="14,14.45 11.3,12.8 11.3,16.1"/></g>
<path d="M277.2 11.6 C279.5 10 281 6.3 283.1 6.3 C285 6.3 286.5 9.5 288.8 10.3" stroke="#2a8a2a" stroke-width="1.3" fill="none"/>
<g><line x1="317.8" y1="11.2" x2="322.6" y2="15.2" stroke="#9a7408" stroke-width="3.4" stroke-linecap="round"/><line x1="317.8" y1="11.2" x2="322.6" y2="15.2" stroke="#ecc94a" stroke-width="2" stroke-linecap="round"/><circle cx="314" cy="7" r="5.1" fill="#d4e8f8" stroke="#3d7fd0" stroke-width="1.3"/><path d="M311 7h6M314 4v6" stroke="#4a80c0" stroke-width="1.6"/></g>
<g><line x1="345.90000000000003" y1="11.3" x2="350.70000000000005" y2="15.299999999999999" stroke="#9a7408" stroke-width="3.4" stroke-linecap="round"/><line x1="345.90000000000003" y1="11.3" x2="350.70000000000005" y2="15.299999999999999" stroke="#ecc94a" stroke-width="2" stroke-linecap="round"/><circle cx="342.1" cy="7.1" r="5.1" fill="#d4e8f8" stroke="#3d7fd0" stroke-width="1.3"/><path d="M339.1 7.1h6" stroke="#4a80c0" stroke-width="1.6"/></g>
<rect x="364" y="1" width="8" height="8" fill="#3a9a1a"/><rect x="365.2" y="4.2" width="5.8" height="3.6" fill="#fff"/><rect x="366.2" y="5.4" width="3.8" height="1" fill="#3a9a1a" opacity=".55"/><rect x="365" y="2" width="1" height="1" fill="#fff" opacity=".8"/>
<rect x="372.2" y="1" width="8" height="8" fill="#1a4fc8"/><rect x="373.4" y="4.2" width="5.8" height="3.6" fill="#fff"/><rect x="374.4" y="5.4" width="3.8" height="1" fill="#1a4fc8" opacity=".55"/><rect x="373.2" y="2" width="1" height="1" fill="#fff" opacity=".8"/>
<rect x="364" y="9" width="8" height="8" fill="#1a4fc8"/><rect x="365.2" y="12.2" width="5.8" height="3.6" fill="#fff"/><rect x="366.2" y="13.4" width="3.8" height="1" fill="#1a4fc8" opacity=".55"/><rect x="365" y="10" width="1" height="1" fill="#fff" opacity=".8"/>
<rect x="372.2" y="9" width="8" height="8" fill="#3a9a1a"/><rect x="373.4" y="12.2" width="5.8" height="3.6" fill="#fff"/><rect x="374.4" y="13.4" width="3.8" height="1" fill="#3a9a1a" opacity=".55"/><rect x="373.2" y="10" width="1" height="1" fill="#fff" opacity=".8"/>
<g transform="translate(399.8,0)" fill="#505050"><rect x="1.8" y="3.3" width="1.3" height="13.3"/><rect x="0" y="13.8" width="13.4" height="1.3"/><polygon points="2.45,2.2 0.7,5.2 4.2,5.2"/><polygon points="14,14.45 11.3,12.8 11.3,16.1"/></g>
<polygon points="407.8,5.7 407.8,11.3 410.7,8.5" fill="#8ae89a" stroke="#18a030" stroke-width="1" stroke-linejoin="round"/>
<g transform="translate(427.7,0)" fill="#505050"><rect x="1.8" y="3.3" width="1.3" height="13.3"/><rect x="0" y="13.8" width="13.4" height="1.3"/><polygon points="2.45,2.2 0.7,5.2 4.2,5.2"/><polygon points="14,14.45 11.3,12.8 11.3,16.1"/></g>
<rect x="435.9" y="3.1" width="1.5" height="9.5" fill="#1a6fa8"/><polygon points="437.6,8.5 440.2,6.7 440.2,10.3" fill="#d04010"/><rect x="439.5" y="8" width="2.5" height="1" fill="#d04010"/>
<g><path d="M461.5 1.5h8l3.3 3.3v9.7h-11.3z" fill="#fafafa" stroke="#909090" stroke-width=".8"/><path d="M469.5 1.5v3.3h3.3" fill="none" stroke="#909090" stroke-width=".7"/><text x="463.6" y="11.5" font-size="11" font-style="italic" fill="#333" style="font-family:'Liberation Serif',serif">f</text><path d="M465 12.7h11.8M470.9 6.8v12" stroke="#0a7a0a" stroke-width="4.3"/><path d="M465.7 12.7h10.4M470.9 7.5v10.6" stroke="#22c422" stroke-width="2.9"/></g>
<polygon points="482.7,7.7 488.3,7.7 485.5,11" fill="#000"/>
<g><circle cx="507.1" cy="8.8" r="6.7" fill="#eef3f9" stroke="url(#gclk)" stroke-width="2.4"/><path d="M507.1 5v3.9h3.5" stroke="#222" stroke-width="1.1" fill="none"/><circle cx="507.1" cy="13" r=".5" fill="#7aa0d8"/><circle cx="503" cy="8.8" r=".4" fill="#999"/></g>
<polygon points="521.8,7.7 527.4,7.7 524.5999999999999,11" fill="#000"/>
<g><rect x="538.5" y="2.6" width="15" height="12.8" fill="#fff" stroke="#3a78c8" stroke-width=".9"/><rect x="538.5" y="2.6" width="15" height="2.2" fill="#4a8ad8"/><rect x="538.5" y="9.7" width="15" height=".8" fill="#4a8ad8"/><path d="M540.5 8.2l2.5-.3 2-1.3 2.5.8 2.5-1.2 1.8-.3" stroke="#a83018" stroke-width="1.1" fill="none"/><path d="M540.5 13.6l2.3-.2 2-1.2 1.8.8 2.6-2 2.3 2" stroke="#1a8a1a" stroke-width="1.1" fill="none"/></g>
<polygon points="560.9,7.7 566.5,7.7 563.6999999999999,11" fill="#000"/>
<path d="M590.4 2.2v12.3l3-2.7 2.2 4.8 1.8-.8-2.2-4.7h4z" fill="#404040"/>
<path d="M622.5 2v6M622.5 11v6M615 9.5h6M624 9.5h6" stroke="#505050" stroke-width="1.2"/>
<path d="M656.4 3v13.2" stroke="#505050" stroke-width="1.2"/>
<path d="M679 9.4h12" stroke="#505050" stroke-width="1.2"/>
<path d="M707 16.3L719.3 3.9" stroke="#505050" stroke-width="1.3"/>
<path d="M733 10.8L745.1 2.8M734.4 15L747.5 7M737.6 8l-.9 7.5M741.3 5.2l-.9 8M745.1 1l-.9 8.4" stroke="#505050" stroke-width="1.1" fill="none"/>
<text x="743.7" y="17.8" font-size="6.5" font-weight="bold" fill="#303030">E</text>
<g shape-rendering="crispEdges"><path d="M762 2.5h13M762 5.5h13M762 9.5h13" stroke="#505050" stroke-width="1" stroke-dasharray="1 1"/><path d="M762 13.5h10" stroke="#505050" stroke-width="1" stroke-dasharray="1 1"/></g>
<text x="771.8" y="17.8" font-size="6.5" font-weight="bold" fill="#303030">F</text>
<text x="792.3" y="14" font-size="12.5" font-weight="bold" fill="#606060">A</text>
<rect x="818.5" y="2.5" width="12" height="13" fill="none" stroke="#505050" stroke-width="1" stroke-dasharray="1 1" shape-rendering="crispEdges"/><text x="821" y="13.6" font-size="10.5" font-weight="bold" fill="#585858">T</text>
<polygon points="850,2.9 854,6 850,7.9 846,6" fill="#484848"/><polygon points="856.6,10.4 860.2,12.6 856.6,15.8 853,13.1" fill="#484848"/><path d="M848.6 11.2l1.9 1.4 4.2-5.1" stroke="#484848" stroke-width="1.3" fill="none"/>
<polygon points="866.7,8.1 872.3000000000001,8.1 869.5,11.399999999999999" fill="#000"/>
<line x1="1606.2" y1="10.2" x2="1602.4" y2="13.8" stroke="#2a5fd0" stroke-width="2.6" stroke-linecap="round"/><circle cx="1609.5" cy="6.6" r="3.6" fill="#f4f6ff" stroke="#2a5fd0" stroke-width="1.4"/>
<path d="M1626.2 11a6 4.8 0 1 1 5.3 4.6l-2.3 1.8 .2-2.3a6 4.8 0 0 1-3.2-4.1z" fill="#e4e6f0" stroke="#a8a8a8" stroke-width=".8"/><circle cx="1640.4" cy="6.5" r="8.3" fill="url(#gbadge)"/><text x="1640.4" y="11" font-size="12" fill="#fff" text-anchor="middle" style="font-family:'DejaVu Sans','Liberation Sans',sans-serif">1</text>
</svg>
</div>
</body>
</html>
